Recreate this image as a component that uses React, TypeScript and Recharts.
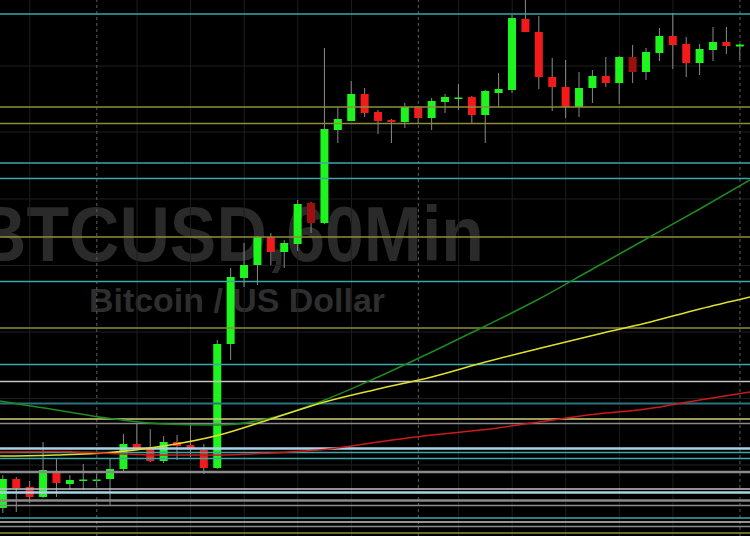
import React from "react";
import {
  ComposedChart,
  Bar,
  Line,
  XAxis,
  YAxis,
  CartesianGrid,
  ReferenceLine,
} from "recharts";

// hourly candles, BTCUSD
const opens = [
  9228, 9257, 9249, 9239, 9265, 9252, 9255.5, 9256, 9257, 9267, 9292, 9288, 9275, 9294,
  9291, 9286, 9268, 9392, 9458, 9471, 9499, 9484, 9492, 9533, 9513, 9606, 9615, 9642,
  9624, 9616, 9614, 9629, 9618, 9634, 9638, 9639, 9621, 9643, 9646, 9717, 9704, 9659,
  9649, 9629, 9648, 9660, 9653, 9679, 9664, 9683, 9700, 9692, 9673, 9686, 9694, 9689.5,
];
const highs = [
  9261, 9259, 9255, 9294, 9277, 9261, 9272, 9262, 9277, 9302, 9313, 9307, 9300, 9301,
  9313, 9292, 9396, 9468, 9493, 9500, 9503, 9496, 9536, 9534, 9688, 9629, 9655, 9648,
  9626, 9617, 9633, 9630, 9638, 9642, 9652, 9640, 9646, 9663, 9721, 9736, 9720, 9678,
  9676, 9664, 9666, 9679, 9680, 9691, 9688, 9708, 9723, 9699, 9692, 9709, 9709, 9692,
];
const lows = [
  9223, 9224, 9233, 9238, 9239, 9246, 9246, 9249, 9231, 9263, 9286, 9274, 9273, 9276,
  9279, 9262, 9267, 9376, 9449, 9451, 9471, 9468, 9485, 9503, 9512, 9593, 9615, 9619,
  9602, 9593, 9608, 9613, 9606, 9623, 9626, 9613, 9593, 9629, 9643, 9704, 9647, 9625,
  9618, 9619, 9633, 9649, 9632, 9653, 9656, 9675, 9667, 9659, 9661, 9675, 9682, 9676,
];
const closes = [
  9257, 9248, 9239, 9266, 9253, 9256, 9256.5, 9256.5, 9267, 9292, 9288, 9275, 9294, 9290,
  9288, 9268, 9392, 9459, 9471, 9499, 9484, 9493, 9532, 9513, 9607, 9617, 9642, 9623,
  9615, 9614, 9629, 9618, 9635, 9639, 9638.5, 9621, 9645, 9647, 9718, 9704, 9659, 9649,
  9629, 9648, 9660, 9653, 9679, 9664, 9684, 9700, 9691, 9673, 9687, 9694, 9690, 9691.5,
];
const darkCandles = [23, 47];

// moving averages, sampled at bar index
const maIndex = [-0.22, 0, 4, 8, 12, 16, 20, 24, 28, 32, 36, 40, 44, 48, 52, 55.75];
const maFast = [9335, 9334.5, 9326, 9317.5, 9312, 9311, 9318, 9336, 9359, 9384, 9410, 9437, 9467, 9497, 9527, 9556];
const maMid = [9280, 9280, 9281, 9283.5, 9290, 9300.5, 9317, 9334, 9347, 9359, 9374, 9387.5, 9400.5, 9413, 9427, 9439];
const maSlow = [9284, 9284, 9284.5, 9282.5, 9281, 9281, 9283, 9286.5, 9294, 9301, 9306.5, 9314, 9321.5, 9327, 9336, 9344];

// support / resistance levels
const tealLevels = [9722, 9573, 9557.5, 9454.5, 9371.5, 9283.5, 9277.5, 9218];
const darkTealLevels = [9332.5];
const oliveLevels = [9629, 9612.5, 9499, 9408, 9203];
const paleYellowLevels = [9317];
const heavyGrayLevels = [9264, 9235.5];
const grayLevels = [9312.5, 9230.5, 9209.5];
const lightGrayLevels = [9354.5, 9247, 9214];
const blueLevels = [9287.5, 9243.5];

const gridPrices = [9670, 9604, 9537, 9470.5, 9404, 9337.5, 9271];
const gridBars = [2, 10, 14, 18, 22, 26, 34, 38, 42, 46, 50];
const dayBreaks = [7, 31, 55];

const candles = opens.map((o, i) => ({
  i,
  open: o,
  high: highs[i],
  low: lows[i],
  close: closes[i],
}));

const maRows = maIndex.map((i, k) => ({
  i,
  fast: maFast[k],
  mid: maMid[k],
  slow: maSlow[k],
}));

function Candle(props: any) {
  const { x, y, width, height, payload } = props;
  if (x == null || !payload) return null;
  const { open, close, high, low } = payload;
  const cx = x + width / 2;
  const top = Math.min(y, y + height);
  const h = Math.abs(height);
  const k = h / (high - low);
  const py = (v: number) => top + (high - v) * k;
  const yo = py(open);
  const yc = py(close);
  const up = close >= open;
  const fill = up ? "#1ef51e" : darkCandles.includes(payload.i) ? "#9e1010" : "#f21a1a";
  return (
    <g>
      <line x1={cx} x2={cx} y1={top} y2={top + h} stroke="#8a8a8a" strokeWidth={1} />
      <rect
        x={cx - 4}
        y={Math.min(yo, yc)}
        width={8}
        height={Math.max(Math.abs(yo - yc), 1.5)}
        fill={fill}
      />
    </g>
  );
}

function levels(values: number[], color: string, w: number) {
  return values.map((v) => (
    <ReferenceLine key={color + v} y={v} stroke={color} strokeWidth={w} />
  ));
}

export default function App() {
  const font = "'Liberation Sans', Arial, sans-serif";
  return (
    <div
      style={{
        position: "absolute",
        left: 0,
        top: 0,
        width: 750,
        height: 536,
        background: "#000",
        overflow: "hidden",
      }}
    >
      <svg width={750} height={536} style={{ position: "absolute", left: 0, top: 0 }}>
        <text
          x={-24}
          y={261}
          fontFamily={font}
          fontWeight="bold"
          fontSize={77}
          fill="#2a2a2a"
          textLength={508}
          lengthAdjust="spacingAndGlyphs"
        >
          BTCUSD,60Min
        </text>
        <text
          x={89}
          y={312}
          fontFamily={font}
          fontWeight="bold"
          fontSize={33}
          fill="#2e2e2e"
          textLength={296}
          lengthAdjust="spacingAndGlyphs"
        >
          Bitcoin / US Dollar
        </text>
      </svg>
      <div style={{ position: "absolute", left: 0, top: 0 }}>
        <ComposedChart
          width={750}
          height={536}
          data={candles}
          margin={{ top: 0, right: 0, bottom: 0, left: 0 }}
        >
          <CartesianGrid
            stroke="#1e1e1e"
            horizontalValues={gridPrices}
            verticalValues={gridBars}
          />
          <XAxis
            type="number"
            dataKey="i"
            domain={[-0.224, 55.75]}
            allowDataOverflow
            hide
          />
          <YAxis type="number" domain={[9200, 9736]} allowDataOverflow hide />
          {dayBreaks.map((d) => (
            <ReferenceLine key={"d" + d} x={d} stroke="#5c5c5c" strokeDasharray="3 3" />
          ))}
          {levels(tealLevels, "#3fa6a8", 1.5)}
          {levels(darkTealLevels, "#2a7480", 2)}
          {levels(oliveLevels, "#8e8e3a", 1.5)}
          {levels(paleYellowLevels, "#cfcf7c", 1.5)}
          {levels(heavyGrayLevels, "#8a8a8a", 2.5)}
          {levels(grayLevels, "#8a8a8a", 1.5)}
          {levels(lightGrayLevels, "#c4c4c4", 1.5)}
          {levels(blueLevels, "#a6d2e4", 2.5)}
          <Line
            data={maRows}
            dataKey="fast"
            type="monotone"
            stroke="#1f8a1f"
            strokeWidth={1.5}
            dot={false}
            isAnimationActive={false}
          />
          <Line
            data={maRows}
            dataKey="mid"
            type="monotone"
            stroke="#e0e030"
            strokeWidth={1.5}
            dot={false}
            isAnimationActive={false}
          />
          <Line
            data={maRows}
            dataKey="slow"
            type="monotone"
            stroke="#cc1a1a"
            strokeWidth={1.5}
            dot={false}
            isAnimationActive={false}
          />
          <Bar
            dataKey={(d: any) => [d.low, d.high]}
            barSize={8}
            shape={Candle}
            isAnimationActive={false}
          />
        </ComposedChart>
      </div>
    </div>
  );
}
